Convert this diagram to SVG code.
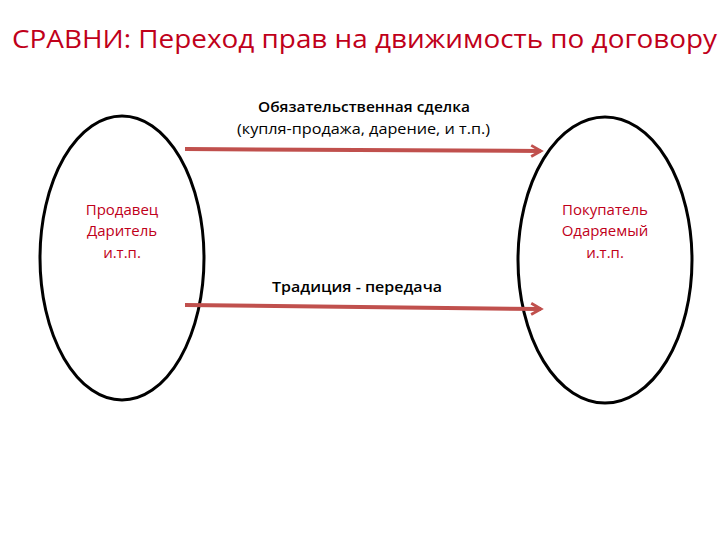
<svg xmlns="http://www.w3.org/2000/svg" width="720" height="540" viewBox="0 0 720 540">
<style>
.t{font-family:"Open Sans","Liberation Sans",sans-serif;}
.red{fill:#c0001a;}
.e{fill:none;stroke:#000;stroke-width:3;}
.a{stroke:#c0504d;stroke-width:4;fill:none;}
</style>
<defs><marker id="m" viewBox="0 0 10 10" refX="8" refY="5" markerWidth="3.5" markerHeight="3.5" orient="auto" markerUnits="strokeWidth"><path d="M1,1 L8,5 L1,9" fill="none" stroke="#c0504d" stroke-width="2"/></marker></defs>
<rect width="720" height="540" fill="#fff"/>
<text class="t red" x="12" y="48" font-size="26" textLength="705" lengthAdjust="spacingAndGlyphs">СРАВНИ: Переход прав на движимость по договору</text>
<g id="seller"><ellipse class="e" cx="122" cy="258" rx="82" ry="142"/>
<text class="t red" font-size="15" text-anchor="middle"><tspan x="122" y="215">Продавец</tspan><tspan x="122" y="236">Даритель</tspan><tspan x="122" y="258">и.т.п.</tspan></text></g>
<g id="buyer"><ellipse class="e" cx="605" cy="260" rx="87" ry="143"/>
<text class="t red" font-size="15" text-anchor="middle"><tspan x="605" y="215">Покупатель</tspan><tspan x="605" y="236">Одаряемый</tspan><tspan x="605" y="258">и.т.п.</tspan></text></g>
<g id="connectors">
<path class="a" d="M185,149 L541,151" marker-end="url(#m)"/>
<path class="a" d="M185,305 L541,309" marker-end="url(#m)"/>
</g>
<g id="labels">
<text class="t" font-size="15" font-weight="600" x="258" y="112" textLength="212" lengthAdjust="spacingAndGlyphs" fill="#000">Обязательственная сделка</text>
<text class="t" font-size="14" x="237" y="134" textLength="253" lengthAdjust="spacingAndGlyphs" fill="#000">(купля-продажа, дарение, и т.п.)</text>
<text class="t" font-size="15" font-weight="600" x="272" y="292" textLength="170" lengthAdjust="spacingAndGlyphs" fill="#000">Традиция  - передача</text>
</g>
</svg>
